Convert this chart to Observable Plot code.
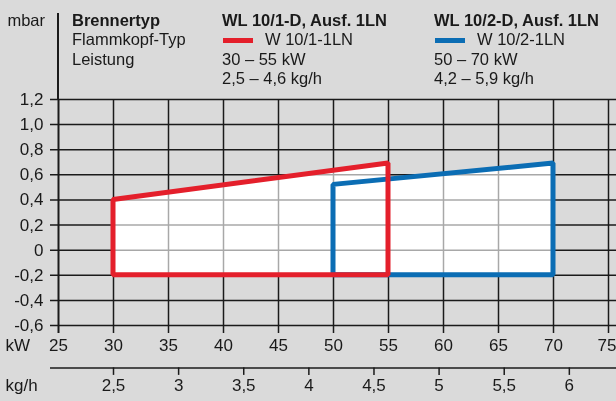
<!DOCTYPE html>
<html><head><meta charset="utf-8">
<script src="https://cdn.jsdelivr.net/npm/d3@7"></script>
<script src="https://cdn.jsdelivr.net/npm/@observablehq/plot@0.6"></script>
<style>
html,body{margin:0;padding:0;background:#dadada;}
body{width:616px;height:401px;overflow:hidden;font-family:"Liberation Sans",Arial,sans-serif;color:#1a1a1a;}
#header{position:relative;height:90px;font-size:16.5px;line-height:19.5px;}
.col{position:absolute;top:10.5px;white-space:nowrap;}
.b{font-weight:bold;}
.sw{position:absolute;left:1px;top:27.5px;width:30px;height:5px;}
.vline{position:absolute;left:57px;top:13px;width:2px;height:86px;background:#1a1a1a;}
.unit{position:absolute;top:10.5px;right:571px;}
#chart{display:block;}
</style></head><body>
<div id="header"></div>
<div id="chart"></div>
<script>
// ---- data ----
const kWTicks = [25, 30, 35, 40, 45, 50, 55, 60, 65, 70, 75];
const mbarTicks = [-0.6, -0.4, -0.2, 0, 0.2, 0.4, 0.6, 0.8, 1.0, 1.2];
const kgTicks = [2.5, 3, 3.5, 4, 4.5, 5, 5.5, 6];
const kgToKW = kg => 30 + (kg - 2.5) * 11.84; // secondary axis conversion

const redKW = [30, 55];
const redTop = [0.4, 0.69];
const redBottom = [-0.2, -0.2];
const blueKW = [50, 70];
const blueTop = [0.52, 0.69];
const blueBottom = [-0.2, -0.2];

const headerLabels = ["Brennertyp", "Flammkopf-Typ", "Leistung"];
const burnerTypes = ["WL 10/1-D, Ausf. 1LN", "WL 10/2-D, Ausf. 1LN"];
const headTypes = ["W 10/1-1LN", "W 10/2-1LN"];
const powerRanges = ["30 – 55 kW", "50 – 70 kW"];
const flowRanges = ["2,5 – 4,6 kg/h", "4,2 – 5,9 kg/h"];
const colors = ["#e41f2b", "#0b6db4"];

// ---- header ----
const header = document.getElementById("header");
const colX = [222, 434];
let html = `<div class="unit">mbar</div><div class="vline"></div>`;
html += `<div class="col" style="left:72px"><div class="b">${headerLabels[0]}</div><div>${headerLabels[1]}</div><div>${headerLabels[2]}</div></div>`;
burnerTypes.forEach((bt, i) => {
  html += `<div class="col" style="left:${colX[i]}px"><div class="b">${bt}</div>` +
    `<span class="sw" style="background:${colors[i]}"></span>` +
    `<div style="padding-left:43px">${headTypes[i]}</div><div>${powerRanges[i]}</div><div>${flowRanges[i]}</div></div>`;
});
header.innerHTML = html;

// ---- chart ----
const W = 616, H = 311, mT = 9, mB = 76, mL = 58, mR = 8;
const frameH = H - mT - mB;
const tickLen = 8, kgOffset = 42.4;
const ink = "#1a1a1a";
const rows = (kw, top, bot) => kw.map((k, i) => ({kW: k, top: top[i], bottom: bot[i]}));
const red = rows(redKW, redTop, redBottom);
const blue = rows(blueKW, blueTop, blueBottom);
const fmtY = d => d === 0 ? "0" : d.toFixed(1).replace(".", ",");
const fmtKg = d => String(d).replace(".", ",");
const lastKW = kWTicks[kWTicks.length - 1];

const chart = Plot.plot({
  width: W, height: H, marginTop: mT, marginBottom: mB, marginLeft: mL, marginRight: mR,
  x: {domain: [25, 75], axis: null},
  y: {domain: [-0.6, 1.2], axis: null},
  style: {background: "transparent", fontSize: "17px", fontFamily: "'Liberation Sans', Arial, sans-serif", color: ink, overflow: "visible"},
  marks: [
    Plot.ruleY(mbarTicks, {stroke: ink, strokeWidth: 1.5, insetLeft: -tickLen, insetRight: -tickLen}),
    Plot.ruleX(kWTicks.slice(1), {stroke: ink, strokeWidth: 1.5, insetBottom: -tickLen}),
    Plot.ruleX([25], {stroke: ink, strokeWidth: 2, insetBottom: -tickLen}),
    Plot.areaY(blue, {x: "kW", y1: "bottom", y2: "top", fill: "white"}),
    Plot.areaY(red, {x: "kW", y1: "bottom", y2: "top", fill: "white"}),
    Plot.ruleY(mbarTicks, {stroke: "#a8a8a8", strokeWidth: 1.5, mixBlendMode: "darken"}),
    Plot.ruleX(kWTicks.slice(1), {stroke: "#a8a8a8", strokeWidth: 1.5, mixBlendMode: "darken"}),
    Plot.areaY(blue, {x: "kW", y1: "bottom", y2: "top", fill: "none", stroke: colors[1], strokeWidth: 5, strokeLinejoin: "miter"}),
    Plot.areaY(red, {x: "kW", y1: "bottom", y2: "top", fill: "none", stroke: colors[0], strokeWidth: 5, strokeLinejoin: "miter"}),
    Plot.text(mbarTicks, {y: d => d, frameAnchor: "left", dx: -15, textAnchor: "end", text: fmtY, fill: ink}),
    Plot.text(kWTicks.slice(0, -1), {x: d => d, frameAnchor: "bottom", dy: 25, text: d => String(d), fill: ink}),
    Plot.text([lastKW], {x: d => d, frameAnchor: "bottom", dy: 25, dx: 8, textAnchor: "end", text: d => String(d), fill: ink}),
    Plot.text(["kW"], {frameAnchor: "bottom-left", dx: -53, dy: 25, textAnchor: "start", text: d => d, fill: ink}),
    Plot.ruleY([-0.6], {dy: kgOffset, stroke: ink, strokeWidth: 1.5, insetLeft: -tickLen, insetRight: -tickLen}),
    Plot.ruleX(kgTicks, {x: kgToKW, stroke: ink, strokeWidth: 1.5, insetTop: frameH + kgOffset, insetBottom: -(kgOffset + 7.5)}),
    Plot.text(kgTicks, {x: kgToKW, frameAnchor: "bottom", dy: 65.7, text: fmtKg, fill: ink}),
    Plot.text(["kg/h"], {frameAnchor: "bottom-left", dx: -53, dy: 65.7, textAnchor: "start", text: d => d, fill: ink})
  ]
});
document.getElementById("chart").appendChild(chart);
</script>
</body></html>
